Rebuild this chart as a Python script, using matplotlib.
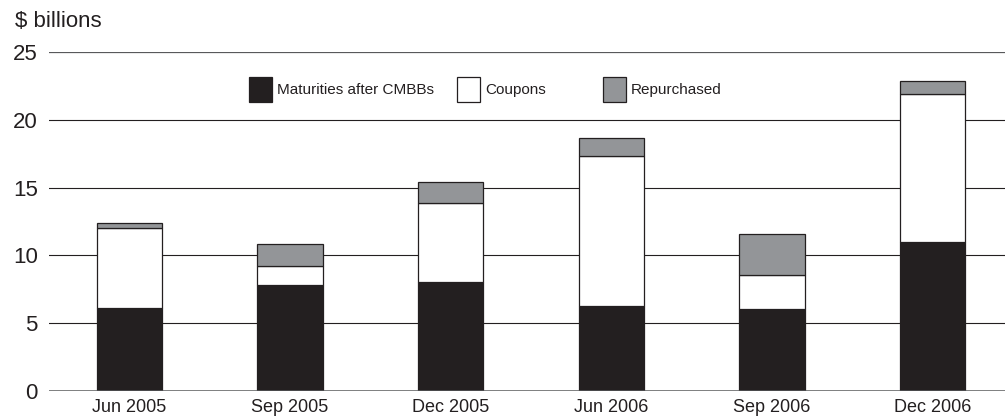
import numpy as np
import matplotlib.pyplot as plt
from matplotlib.patches import Rectangle

plt.rcParams['font.family'] = ['Liberation Sans', 'DejaVu Sans']

# values ($ billions)
quarters = ['Jun 2005', 'Sep 2005', 'Dec 2005', 'Jun 2006', 'Sep 2006', 'Dec 2006']
maturities = [6.1, 7.8, 8.05, 6.3, 6.05, 11.0]
coupons = [5.9, 1.45, 5.85, 11.05, 2.5, 10.9]
repurchased = [0.37, 1.58, 1.5, 1.32, 3.05, 0.94]

series_names = ['Maturities after CMBBs', 'Coupons', 'Repurchased']
colours = ['#231f20', '#ffffff', '#939598']
ink = '#231f20'

W, H = 1005, 417
fig = plt.figure(figsize=(W / 100, H / 100), dpi=100)
ax = fig.add_axes([49 / W, (H - 391) / H, 1 - 49 / W, (391 - 52) / H])

x = np.arange(len(quarters))
bottom = np.zeros(len(quarters))
for vals, col in zip([maturities, coupons, repurchased], colours):
    ax.bar(x, vals, bottom=bottom, width=0.405, color=col,
           edgecolor=ink, linewidth=0.9, zorder=3)
    bottom += np.array(vals)

# gridlines and zero line
for yv in [5, 10, 15, 20]:
    ax.axhline(yv, color=ink, lw=0.8, zorder=1)
ax.axhline(25, color='#58595b', lw=0.9, zorder=1)
ax.axhline(0, color='#58595b', lw=1.8, zorder=4)

ax.set_xlim(-0.5, 5.45)
ax.set_ylim(0, 25)
ax.set_yticks([0, 5, 10, 15, 20, 25])
ax.set_xticks(x)
ax.set_xticklabels(quarters)
ax.tick_params(axis='y', length=0, pad=8, labelsize=16, labelcolor=ink)
ax.tick_params(axis='x', length=0, pad=6, labelsize=13, labelcolor=ink)
for s in ax.spines.values():
    s.set_visible(False)

fig.text(15 / W, 1 - 27 / H, '$ billions', fontsize=16, color=ink, va='baseline')

# legend laid out as in the reference
legend_boxes = [249, 457, 603]
for bx, name, col in zip(legend_boxes, series_names, colours):
    fig.add_artist(Rectangle((bx / W, 1 - 102 / H), 23 / W, 25 / H,
                             transform=fig.transFigure, facecolor=col,
                             edgecolor=ink, linewidth=0.9))
    fig.text((bx + 28) / W, 1 - 90 / H, name, fontsize=11, color=ink, va='center')

fig.savefig('out.png', dpi=100)
